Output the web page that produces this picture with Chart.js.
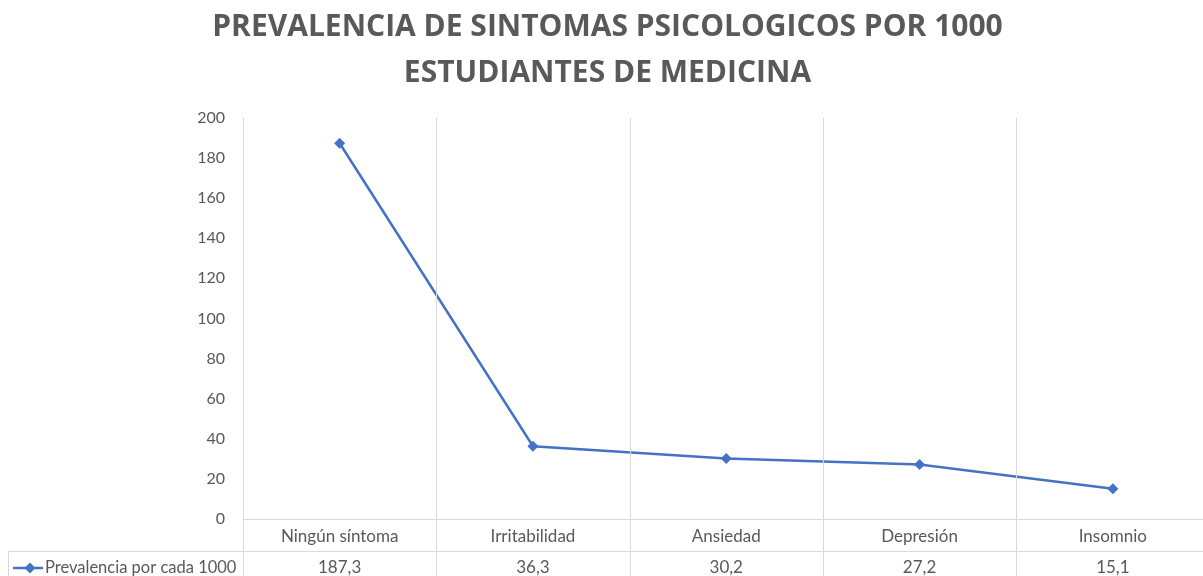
<!DOCTYPE html>
<html>
<head>
<meta charset="utf-8">
<script src="https://cdn.jsdelivr.net/npm/chart.js@4"></script>
<style>
html, body { margin: 0; padding: 0; background: #fff; overflow: hidden; }
#wrap { width: 1203px; height: 576px; overflow: hidden; }
</style>
</head>
<body>
<div id="wrap"><canvas id="c" width="1215" height="576"></canvas></div>
<script>
const categories = ['Ningún síntoma', 'Irritabilidad', 'Ansiedad', 'Depresión', 'Insomnio']
const prevalencia = [187.3, 36.3, 30.2, 27.2, 15.1]
const seriesName = 'Prevalencia por cada 1000'
const titleLines = ['PREVALENCIA DE SINTOMAS PSICOLOGICOS POR 1000', 'ESTUDIANTES DE MEDICINA']

const blue = '#4472C4'
const gray = '#595959'
const gridGray = '#d9d9d9'

const fmt = v => v.toFixed(1).replace('.', ',')

// data table under the plot, Excel style
const dataTable = {
    id: 'dataTable',
    afterDraw(chart) {
        const ctx = chart.ctx
        const x = chart.scales.x
        const area = chart.chartArea
        const h = chart.height
        const half = (x.getPixelForValue(1) - x.getPixelForValue(0)) / 2
        const rowY = Math.round(area.bottom) + 32

        ctx.save()
        ctx.strokeStyle = gridGray
        ctx.lineWidth = 1
        ctx.beginPath()
        // category boundaries
        for (let i = 0; i <= categories.length; i++) {
            const bx = Math.round(x.getPixelForValue(0) - half + i * 2 * half) + 0.5
            ctx.moveTo(bx, area.top)
            ctx.lineTo(bx, h)
        }
        ctx.moveTo(area.left, Math.round(area.bottom) + 0.5)
        ctx.lineTo(area.right, Math.round(area.bottom) + 0.5)
        ctx.moveTo(8, rowY + 0.5)
        ctx.lineTo(area.right, rowY + 0.5)
        ctx.moveTo(8.5, rowY)
        ctx.lineTo(8.5, h)
        ctx.stroke()

        ctx.font = '17px Lato'
        ctx.textAlign = 'center'
        ctx.textBaseline = 'middle'
        ctx.fillStyle = gray
        categories.forEach((c, i) => {
            const cx = x.getPixelForValue(i)
            ctx.fillText(c, cx, area.bottom + 18)
            ctx.fillText(fmt(prevalencia[i]), cx, rowY + 17)
        })

        // legend key
        const ky = rowY + 17
        ctx.strokeStyle = blue
        ctx.lineWidth = 2.5
        ctx.beginPath()
        ctx.moveTo(13, ky)
        ctx.lineTo(43, ky)
        ctx.stroke()
        ctx.fillStyle = blue
        ctx.beginPath()
        ctx.moveTo(30, ky - 5.5)
        ctx.lineTo(35.5, ky)
        ctx.lineTo(30, ky + 5.5)
        ctx.lineTo(24.5, ky)
        ctx.closePath()
        ctx.fill()
        ctx.fillStyle = gray
        ctx.textAlign = 'left'
        ctx.font = '16.5px Lato'
        ctx.fillText(seriesName, 45, ky)
        ctx.restore()
    }
}

new Chart(document.getElementById('c'), {
    type: 'line',
    data: {
        labels: categories,
        datasets: [{
            label: seriesName,
            data: prevalencia,
            borderColor: blue,
            backgroundColor: blue,
            borderWidth: 2.5,
            pointStyle: 'rectRot',
            pointRadius: 5.5,
            pointBorderWidth: 0,
            tension: 0
        }]
    },
    options: {
        responsive: false,
        animation: false,
        layout: { padding: { left: 0, right: 0, top: 0, bottom: 57 } },
        plugins: {
            legend: { display: false },
            tooltip: { enabled: false },
            title: {
                display: true,
                text: titleLines,
                color: gray,
                font: { family: 'Open Sans', weight: 'bold', size: 30, lineHeight: 1.53 },
                padding: { top: 5, bottom: 21 }
            }
        },
        scales: {
            x: {
                display: false,
                offset: true
            },
            y: {
                min: 0,
                max: 200,
                ticks: {
                    stepSize: 20,
                    color: gray,
                    font: { family: 'Lato', size: 16 },
                    padding: 10
                },
                grid: { display: false },
                border: { display: false },
                afterFit(scale) { scale.width = 243 }
            }
        }
    },
    plugins: [dataTable]
})
</script>
</body>
</html>
